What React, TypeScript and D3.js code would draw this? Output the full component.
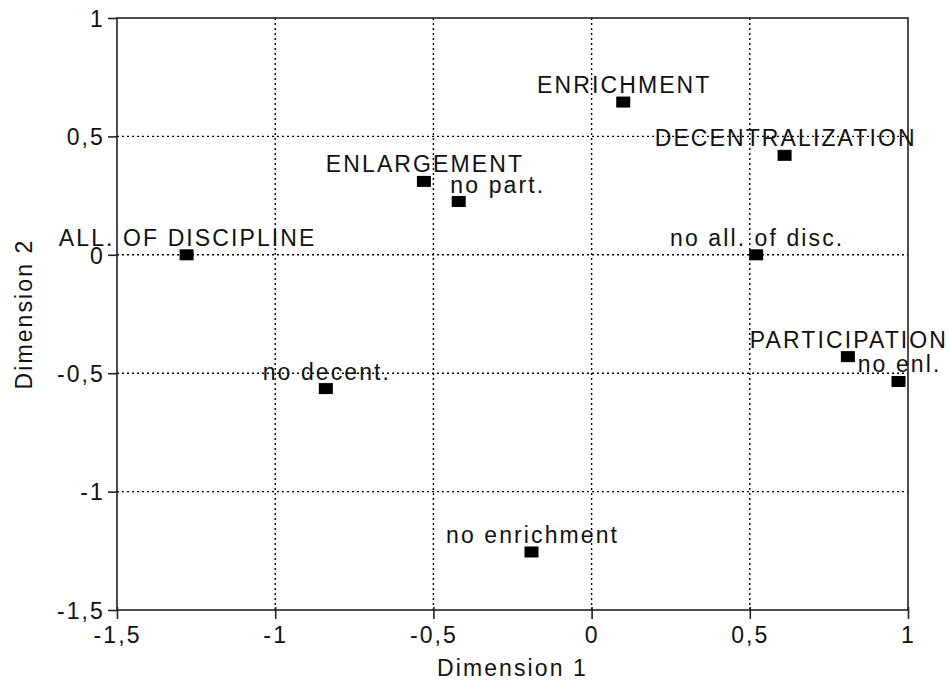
import React, { useRef, useEffect } from 'react';
import * as d3 from 'd3';

// category labels and their coordinates on the two dimensions
const labels = [
  'ENRICHMENT',
  'DECENTRALIZATION',
  'ENLARGEMENT',
  'no part.',
  'ALL. OF DISCIPLINE',
  'no all. of disc.',
  'PARTICIPATION',
  'no enl.',
  'no decent.',
  'no enrichment',
];
const dim1 = [0.1, 0.61, -0.53, -0.42, -1.28, 0.52, 0.81, 0.97, -0.84, -0.19];
const dim2 = [0.645, 0.42, 0.31, 0.225, 0.0, 0.0, -0.43, -0.535, -0.565, -1.255];

const xTicks = [-1.5, -1, -0.5, 0, 0.5, 1];
const yTicks = [-1.5, -1, -0.5, 0, 0.5, 1];

// hand nudges for labels that were moved off their point
const labelShift: Record<string, number> = { 'no part.': 38 };

const width = 950;
const height = 683;
const margin = { top: 18, right: 42, bottom: 73, left: 117 };
const font = '"Liberation Sans", Arial, sans-serif';
const fontSize = 23;
const spacing = 2.1;

const fmt = (d: number) => String(d).replace('.', ',');

export default function App() {
  const ref = useRef<SVGSVGElement>(null);

  useEffect(() => {
    const svg = d3.select(ref.current);
    svg.selectAll('*').remove();

    const x = d3.scaleLinear().domain([-1.5, 1]).range([margin.left, width - margin.right]);
    const y = d3.scaleLinear().domain([-1.5, 1]).range([height - margin.bottom, margin.top]);

    const g = svg.append('g');

    // dotted grid
    g.selectAll('.vgrid')
      .data(xTicks.slice(1, -1))
      .enter()
      .append('line')
      .attr('x1', d => x(d)).attr('x2', d => x(d))
      .attr('y1', y(-1.5)).attr('y2', y(1))
      .attr('stroke', '#000')
      .attr('stroke-width', 1.4)
      .attr('stroke-dasharray', '2,3');
    g.selectAll('.hgrid')
      .data(yTicks.slice(1, -1))
      .enter()
      .append('line')
      .attr('x1', x(-1.5)).attr('x2', x(1))
      .attr('y1', d => y(d)).attr('y2', d => y(d))
      .attr('stroke', '#000')
      .attr('stroke-width', 1.4)
      .attr('stroke-dasharray', '2,3');

    // frame
    g.append('rect')
      .attr('x', x(-1.5)).attr('y', y(1))
      .attr('width', x(1) - x(-1.5)).attr('height', y(-1.5) - y(1))
      .attr('fill', 'none')
      .attr('stroke', '#222')
      .attr('stroke-width', 1.6);

    const xAxis = g.append('g')
      .attr('transform', 'translate(0,' + y(-1.5) + ')')
      .call(d3.axisBottom(x).tickValues(xTicks).tickFormat(d => fmt(d as number)).tickSize(9).tickSizeOuter(0));
    const yAxis = g.append('g')
      .attr('transform', 'translate(' + x(-1.5) + ',0)')
      .call(d3.axisLeft(y).tickValues(yTicks).tickFormat(d => fmt(d as number)).tickSize(9).tickSizeOuter(0));

    [xAxis, yAxis].forEach(a => {
      a.select('.domain').remove();
      a.selectAll('line').attr('stroke', '#222').attr('stroke-width', 1.6);
      a.selectAll('text')
        .attr('fill', '#111')
        .style('font-family', font)
        .style('font-size', fontSize + 'px')
        .style('letter-spacing', spacing + 'px');
    });
    xAxis.selectAll('line').attr('y1', -3);
    xAxis.selectAll('text').attr('dy', null).attr('y', 33);
    yAxis.selectAll('text').attr('x', -12).attr('dy', '0.36em');

    // axis titles
    g.append('text')
      .attr('x', (x(-1.5) + x(1)) / 2)
      .attr('y', 676)
      .attr('text-anchor', 'middle')
      .attr('fill', '#111')
      .style('font-family', font)
      .style('font-size', fontSize + 'px')
      .style('letter-spacing', spacing + 'px')
      .text('Dimension 1');
    g.append('text')
      .attr('transform', 'translate(32,' + (y(-1.5) + y(1)) / 2 + ') rotate(-90)')
      .attr('text-anchor', 'middle')
      .attr('fill', '#111')
      .style('font-family', font)
      .style('font-size', fontSize + 'px')
      .style('letter-spacing', spacing + 'px')
      .text('Dimension 2');

    const data = labels.map((l, i) => ({ label: l, d1: dim1[i], d2: dim2[i] }));

    // points
    g.selectAll('.pt')
      .data(data)
      .enter()
      .append('rect')
      .attr('x', d => x(d.d1) - 7)
      .attr('y', d => y(d.d2) - 5.5)
      .attr('width', 14)
      .attr('height', 11)
      .attr('fill', '#000');

    // labels
    g.selectAll('.lbl')
      .data(data)
      .enter()
      .append('text')
      .attr('x', d => x(d.d1) + (labelShift[d.label] || 0) + spacing / 2)
      .attr('y', d => y(d.d2) - 9)
      .attr('text-anchor', 'middle')
      .attr('fill', '#111')
      .style('font-family', font)
      .style('font-size', fontSize + 'px')
      .style('letter-spacing', spacing + 'px')
      .text(d => d.label);
  }, []);

  return (
    <svg
      ref={ref}
      width={width}
      height={height}
      style={{ position: 'absolute', left: 0, top: 0, background: '#fff' }}
    />
  );
}
